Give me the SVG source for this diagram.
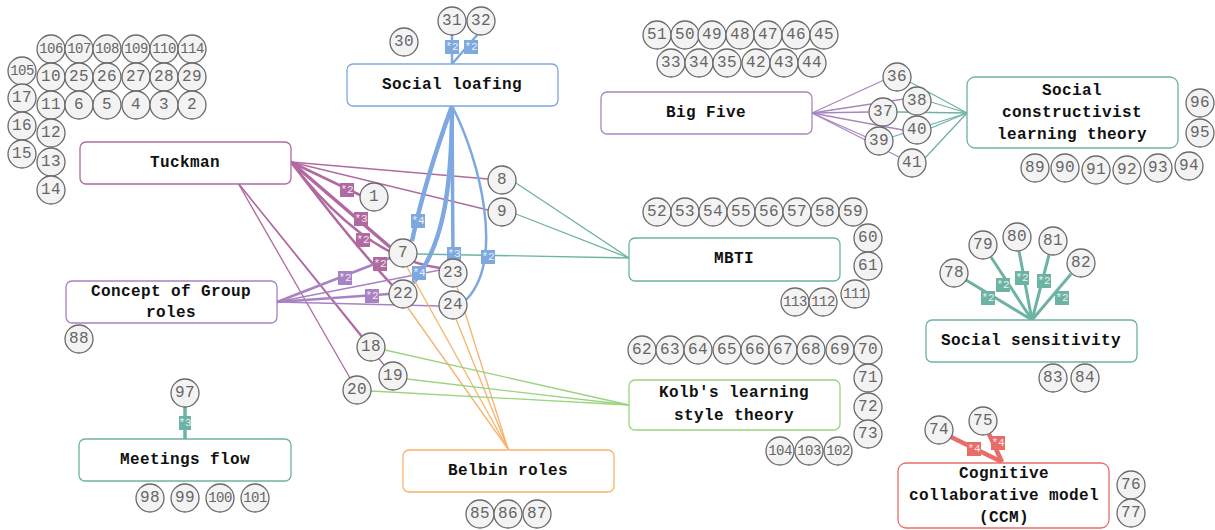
<svg xmlns="http://www.w3.org/2000/svg" width="1215" height="530" viewBox="0 0 1215 530">
<style>
.box{fill:#fff;stroke-width:1.3}
.bt{font-family:"Liberation Mono",monospace;font-weight:bold;font-size:16px;letter-spacing:0.4px;fill:#111;text-anchor:middle;dominant-baseline:central}
.c circle{fill:#f3f3f3;stroke:#6a6a6a;stroke-width:1.3}
.c text{font-family:"Liberation Mono",monospace;font-size:16px;letter-spacing:0.3px;fill:#666;text-anchor:middle;dominant-baseline:central}
.c.s text{font-size:14px;letter-spacing:-0.5px}
.e{fill:none}
.lb text{font-family:"Liberation Mono",monospace;font-size:11px;fill:#fff;fill-opacity:0.85;text-anchor:middle;dominant-baseline:central}
.tk{stroke:#b06aa0}
.cg{stroke:#a882c2}
.bf{stroke:#a886c0}
.sl{stroke:#7ea8e0}
.tl{stroke:#6db3a3}
.gr{stroke:#9ad47e}
.or{stroke:#f7b36b}
.rd{stroke:#e86d68}
</style>
<g id="connectors">
<g stroke-width="1.3" class="e">
<path class="tk" d="M291,162 L488,179"/>
<path class="tk" d="M291,162 L488,210"/>
<path class="tk" d="M291,162 L360,195" stroke-width="2.5"/>
<path class="tk" d="M291,162 L390,247" stroke-width="3.5"/>
<path class="tk" d="M291,162 Q365,258 440,268" stroke-width="2.5"/>
<path class="tk" d="M291,162 Q350,240 392,285" stroke-width="2.5"/>
<path class="tk" d="M238,183 L362,336"/>
<path class="tk" d="M238,183 L384,365"/>
<path class="tk" d="M238,183 L350,378"/>
<path class="cg" d="M277,302 L390,258" stroke-width="2.5"/>
<path class="cg" d="M277,302 L389,294" stroke-width="2.5"/>
<path class="cg" d="M277,302 L440,270"/>
<path class="cg" d="M277,302 L439,306"/>
<path class="sl" d="M452,106 Q425,180 412,241" stroke-width="4.5"/>
<path class="sl" d="M452,106 C452,200 440,250 413,283" stroke-width="4.5"/>
<path class="sl" d="M452,106 L453,259" stroke-width="3.5"/>
<path class="sl" d="M452,106 C480,160 505,260 466,300" stroke-width="2.5"/>
<path class="sl" d="M452,64 L452,35" stroke-width="2.5"/>
<path class="sl" d="M452,64 L478,34" stroke-width="2.5"/>
<path class="tl" d="M516,183 L629,258"/>
<path class="tl" d="M516,214 L629,258"/>
<path class="tl" d="M417,254 L629,258"/>
<path class="or" d="M407,267 L508,449"/>
<path class="or" d="M408,308 L508,449"/>
<path class="or" d="M457,287 L508,449"/>
<path class="or" d="M456,319 L508,449"/>
<path class="gr" d="M385,350 L629,405"/>
<path class="gr" d="M407,379 L629,405"/>
<path class="gr" d="M371,391 L629,405"/>
<path class="bf" d="M812,113 L884,80"/>
<path class="bf" d="M812,113 L869,112"/>
<path class="bf" d="M812,113 L904,99"/>
<path class="bf" d="M812,113 L866,137"/>
<path class="bf" d="M812,113 L903,130"/>
<path class="bf" d="M812,113 L899,157"/>
<path class="tl" d="M910,82 L967,113"/>
<path class="tl" d="M931,102 L967,113"/>
<path class="tl" d="M897,112 L967,113"/>
<path class="tl" d="M931,128 L967,113"/>
<path class="tl" d="M892,137 L967,113"/>
<path class="tl" d="M925,158 L967,113"/>
<path class="tl" d="M1032,320 L966,280" stroke-width="3"/>
<path class="tl" d="M1032,320 L991,257" stroke-width="3"/>
<path class="tl" d="M1032,320 L1019,251" stroke-width="3"/>
<path class="tl" d="M1032,320 L1049,255" stroke-width="3"/>
<path class="tl" d="M1032,320 L1071,274" stroke-width="3"/>
<path class="tl" d="M185,407 L185,439" stroke-width="3.5"/>
<path class="rd" d="M1002,462 L951,437" stroke-width="4.5"/>
<path class="rd" d="M1002,462 L989,434" stroke-width="4.5"/>
</g>
<g class="lb">
<g transform="translate(347,190)"><rect x="-7" y="-7" width="14" height="14" fill="#b06aa0"/><text>*2</text></g>
<g transform="translate(361,219)"><rect x="-7" y="-7" width="14" height="14" fill="#b06aa0"/><text>*3</text></g>
<g transform="translate(363,240)"><rect x="-7" y="-7" width="14" height="14" fill="#b06aa0"/><text>*2</text></g>
<g transform="translate(380,264)"><rect x="-7" y="-7" width="14" height="14" fill="#b06aa0"/><text>*2</text></g>
<g transform="translate(345,278)"><rect x="-7" y="-7" width="14" height="14" fill="#a882c2"/><text>*2</text></g>
<g transform="translate(372,296)"><rect x="-7" y="-7" width="14" height="14" fill="#a882c2"/><text>*2</text></g>
<g transform="translate(418,221)"><rect x="-7" y="-7" width="14" height="14" fill="#7ea8e0"/><text>*4</text></g>
<g transform="translate(419,273)"><rect x="-7" y="-7" width="14" height="14" fill="#7ea8e0"/><text>*4</text></g>
<g transform="translate(454,254)"><rect x="-7" y="-7" width="14" height="14" fill="#7ea8e0"/><text>*3</text></g>
<g transform="translate(488,257)"><rect x="-7" y="-7" width="14" height="14" fill="#7ea8e0"/><text>*2</text></g>
<g transform="translate(452,47)"><rect x="-7" y="-7" width="14" height="14" fill="#7ea8e0"/><text>*2</text></g>
<g transform="translate(471,47)"><rect x="-7" y="-7" width="14" height="14" fill="#7ea8e0"/><text>*2</text></g>
<g transform="translate(988,298)"><rect x="-7" y="-7" width="14" height="14" fill="#6db3a3"/><text>*2</text></g>
<g transform="translate(1003,285)"><rect x="-7" y="-7" width="14" height="14" fill="#6db3a3"/><text>*2</text></g>
<g transform="translate(1022,278)"><rect x="-7" y="-7" width="14" height="14" fill="#6db3a3"/><text>*2</text></g>
<g transform="translate(1044,281)"><rect x="-7" y="-7" width="14" height="14" fill="#6db3a3"/><text>*2</text></g>
<g transform="translate(1062,298)"><rect x="-7" y="-7" width="14" height="14" fill="#6db3a3"/><text>*2</text></g>
<g transform="translate(185,423)"><rect x="-6" y="-7" width="12" height="14" fill="#6db3a3"/><text>*3</text></g>
<g transform="translate(974,449)"><rect x="-7" y="-7" width="14" height="14" fill="#e86d68"/><text>*4</text></g>
<g transform="translate(998,443)"><rect x="-7" y="-7" width="14" height="14" fill="#e86d68"/><text>*4</text></g>
</g>
</g>
<g id="tuckman"><rect class="box" x="80" y="142" width="211" height="42" rx="6" stroke="#b06aa0"/><text class="bt" x="185" y="163">Tuckman</text></g>
<g id="social-loafing"><rect class="box" x="347" y="64" width="211" height="42" rx="6" stroke="#7ea8e0"/><text class="bt" x="452" y="85">Social loafing</text></g>
<g id="big-five"><rect class="box" x="601" y="92" width="211" height="42" rx="6" stroke="#a886c0"/><text class="bt" x="706" y="113">Big Five</text></g>
<g id="social-constructivist"><rect class="box" x="967" y="77" width="211" height="71" rx="8" stroke="#6db3a3"/><text class="bt" x="1072" y="91">Social</text><text class="bt" x="1072" y="113">constructivist</text><text class="bt" x="1072" y="135">learning theory</text></g>
<g id="mbti"><rect class="box" x="629" y="238" width="211" height="43" rx="6" stroke="#6db3a3"/><text class="bt" x="734" y="259">MBTI</text></g>
<g id="concept-group-roles"><rect class="box" x="66" y="281" width="211" height="42" rx="6" stroke="#a882c2"/><text class="bt" x="171" y="292">Concept of Group</text><text class="bt" x="171" y="313">roles</text></g>
<g id="social-sensitivity"><rect class="box" x="926" y="320" width="211" height="42" rx="6" stroke="#6db3a3"/><text class="bt" x="1031" y="341">Social sensitivity</text></g>
<g id="kolb"><rect class="box" x="629" y="380" width="211" height="50" rx="6" stroke="#9ad47e"/><text class="bt" x="734" y="393">Kolb's learning</text><text class="bt" x="734" y="416">style theory</text></g>
<g id="meetings-flow"><rect class="box" x="79" y="439" width="212" height="42" rx="6" stroke="#6db3a3"/><text class="bt" x="185" y="460">Meetings flow</text></g>
<g id="belbin"><rect class="box" x="403" y="450" width="211" height="42" rx="6" stroke="#f7b36b"/><text class="bt" x="508" y="471">Belbin roles</text></g>
<g id="ccm"><rect class="box" x="898" y="463" width="211" height="65" rx="8" stroke="#e86d68"/><text class="bt" x="1004" y="474">Cognitive</text><text class="bt" x="1004" y="496">collaborative model</text><text class="bt" x="1004" y="518">(CCM)</text></g>
<g id="n106" class="c s" transform="translate(51,49)"><circle r="14"/><text>106</text></g>
<g id="n107" class="c s" transform="translate(79,49)"><circle r="14"/><text>107</text></g>
<g id="n108" class="c s" transform="translate(107,49)"><circle r="14"/><text>108</text></g>
<g id="n109" class="c s" transform="translate(136,49)"><circle r="14"/><text>109</text></g>
<g id="n110" class="c s" transform="translate(164,49)"><circle r="14"/><text>110</text></g>
<g id="n114" class="c s" transform="translate(192,49)"><circle r="14"/><text>114</text></g>
<g id="n105" class="c s" transform="translate(22,71)"><circle r="14"/><text>105</text></g>
<g id="n10" class="c" transform="translate(51,77)"><circle r="14"/><text>10</text></g>
<g id="n25" class="c" transform="translate(79,77)"><circle r="14"/><text>25</text></g>
<g id="n26" class="c" transform="translate(107,77)"><circle r="14"/><text>26</text></g>
<g id="n27" class="c" transform="translate(136,77)"><circle r="14"/><text>27</text></g>
<g id="n28" class="c" transform="translate(164,77)"><circle r="14"/><text>28</text></g>
<g id="n29" class="c" transform="translate(192,77)"><circle r="14"/><text>29</text></g>
<g id="n17" class="c" transform="translate(22,98)"><circle r="14"/><text>17</text></g>
<g id="n11" class="c" transform="translate(51,105)"><circle r="14"/><text>11</text></g>
<g id="n6" class="c" transform="translate(79,105)"><circle r="14"/><text>6</text></g>
<g id="n5" class="c" transform="translate(107,105)"><circle r="14"/><text>5</text></g>
<g id="n4" class="c" transform="translate(136,105)"><circle r="14"/><text>4</text></g>
<g id="n3" class="c" transform="translate(164,105)"><circle r="14"/><text>3</text></g>
<g id="n2" class="c" transform="translate(192,105)"><circle r="14"/><text>2</text></g>
<g id="n16" class="c" transform="translate(22,126)"><circle r="14"/><text>16</text></g>
<g id="n12" class="c" transform="translate(51,133)"><circle r="14"/><text>12</text></g>
<g id="n15" class="c" transform="translate(22,154)"><circle r="14"/><text>15</text></g>
<g id="n13" class="c" transform="translate(51,162)"><circle r="14"/><text>13</text></g>
<g id="n14" class="c" transform="translate(51,190)"><circle r="14"/><text>14</text></g>
<g id="n30" class="c" transform="translate(404,42)"><circle r="14"/><text>30</text></g>
<g id="n31" class="c" transform="translate(452,21)"><circle r="14"/><text>31</text></g>
<g id="n32" class="c" transform="translate(481,21)"><circle r="14"/><text>32</text></g>
<g id="n51" class="c" transform="translate(657,35)"><circle r="14"/><text>51</text></g>
<g id="n50" class="c" transform="translate(685,35)"><circle r="14"/><text>50</text></g>
<g id="n49" class="c" transform="translate(712,35)"><circle r="14"/><text>49</text></g>
<g id="n48" class="c" transform="translate(740,35)"><circle r="14"/><text>48</text></g>
<g id="n47" class="c" transform="translate(768,35)"><circle r="14"/><text>47</text></g>
<g id="n46" class="c" transform="translate(796,35)"><circle r="14"/><text>46</text></g>
<g id="n45" class="c" transform="translate(824,35)"><circle r="14"/><text>45</text></g>
<g id="n33" class="c" transform="translate(671,63)"><circle r="14"/><text>33</text></g>
<g id="n34" class="c" transform="translate(699,63)"><circle r="14"/><text>34</text></g>
<g id="n35" class="c" transform="translate(727,63)"><circle r="14"/><text>35</text></g>
<g id="n42" class="c" transform="translate(756,63)"><circle r="14"/><text>42</text></g>
<g id="n43" class="c" transform="translate(784,63)"><circle r="14"/><text>43</text></g>
<g id="n44" class="c" transform="translate(812,63)"><circle r="14"/><text>44</text></g>
<g id="n36" class="c" transform="translate(897,77)"><circle r="14"/><text>36</text></g>
<g id="n38" class="c" transform="translate(917,101)"><circle r="14"/><text>38</text></g>
<g id="n37" class="c" transform="translate(883,112)"><circle r="14"/><text>37</text></g>
<g id="n40" class="c" transform="translate(917,130)"><circle r="14"/><text>40</text></g>
<g id="n39" class="c" transform="translate(879,141)"><circle r="14"/><text>39</text></g>
<g id="n41" class="c" transform="translate(912,163)"><circle r="14"/><text>41</text></g>
<g id="n96" class="c" transform="translate(1200,103)"><circle r="14"/><text>96</text></g>
<g id="n95" class="c" transform="translate(1200,133)"><circle r="14"/><text>95</text></g>
<g id="n89" class="c" transform="translate(1035,168)"><circle r="14"/><text>89</text></g>
<g id="n90" class="c" transform="translate(1065,168)"><circle r="14"/><text>90</text></g>
<g id="n91" class="c" transform="translate(1096,170)"><circle r="14"/><text>91</text></g>
<g id="n92" class="c" transform="translate(1127,170)"><circle r="14"/><text>92</text></g>
<g id="n93" class="c" transform="translate(1158,168)"><circle r="14"/><text>93</text></g>
<g id="n94" class="c" transform="translate(1189,166)"><circle r="14"/><text>94</text></g>
<g id="n52" class="c" transform="translate(657,212)"><circle r="14"/><text>52</text></g>
<g id="n53" class="c" transform="translate(685,212)"><circle r="14"/><text>53</text></g>
<g id="n54" class="c" transform="translate(713,212)"><circle r="14"/><text>54</text></g>
<g id="n55" class="c" transform="translate(741,212)"><circle r="14"/><text>55</text></g>
<g id="n56" class="c" transform="translate(769,212)"><circle r="14"/><text>56</text></g>
<g id="n57" class="c" transform="translate(797,212)"><circle r="14"/><text>57</text></g>
<g id="n58" class="c" transform="translate(825,212)"><circle r="14"/><text>58</text></g>
<g id="n59" class="c" transform="translate(853,212)"><circle r="14"/><text>59</text></g>
<g id="n60" class="c" transform="translate(868,238)"><circle r="14"/><text>60</text></g>
<g id="n61" class="c" transform="translate(868,266)"><circle r="14"/><text>61</text></g>
<g id="n111" class="c s" transform="translate(855,294)"><circle r="14"/><text>111</text></g>
<g id="n113" class="c s" transform="translate(795,302)"><circle r="14"/><text>113</text></g>
<g id="n112" class="c s" transform="translate(823,302)"><circle r="14"/><text>112</text></g>
<g id="n1" class="c" transform="translate(374,197)"><circle r="14"/><text>1</text></g>
<g id="n8" class="c" transform="translate(502,180)"><circle r="14"/><text>8</text></g>
<g id="n9" class="c" transform="translate(502,212)"><circle r="14"/><text>9</text></g>
<g id="n7" class="c" transform="translate(403,253)"><circle r="14"/><text>7</text></g>
<g id="n23" class="c" transform="translate(453,273)"><circle r="14"/><text>23</text></g>
<g id="n22" class="c" transform="translate(403,294)"><circle r="14"/><text>22</text></g>
<g id="n24" class="c" transform="translate(453,305)"><circle r="14"/><text>24</text></g>
<g id="n18" class="c" transform="translate(371,347)"><circle r="14"/><text>18</text></g>
<g id="n19" class="c" transform="translate(393,376)"><circle r="14"/><text>19</text></g>
<g id="n20" class="c" transform="translate(357,390)"><circle r="14"/><text>20</text></g>
<g id="n62" class="c" transform="translate(642,350)"><circle r="14"/><text>62</text></g>
<g id="n63" class="c" transform="translate(670,350)"><circle r="14"/><text>63</text></g>
<g id="n64" class="c" transform="translate(698,350)"><circle r="14"/><text>64</text></g>
<g id="n65" class="c" transform="translate(727,350)"><circle r="14"/><text>65</text></g>
<g id="n66" class="c" transform="translate(755,350)"><circle r="14"/><text>66</text></g>
<g id="n67" class="c" transform="translate(783,350)"><circle r="14"/><text>67</text></g>
<g id="n68" class="c" transform="translate(811,350)"><circle r="14"/><text>68</text></g>
<g id="n69" class="c" transform="translate(840,350)"><circle r="14"/><text>69</text></g>
<g id="n70" class="c" transform="translate(868,350)"><circle r="14"/><text>70</text></g>
<g id="n71" class="c" transform="translate(868,378)"><circle r="14"/><text>71</text></g>
<g id="n72" class="c" transform="translate(868,407)"><circle r="14"/><text>72</text></g>
<g id="n73" class="c" transform="translate(868,434)"><circle r="14"/><text>73</text></g>
<g id="n104" class="c s" transform="translate(780,451)"><circle r="14"/><text>104</text></g>
<g id="n103" class="c s" transform="translate(809,451)"><circle r="14"/><text>103</text></g>
<g id="n102" class="c s" transform="translate(838,451)"><circle r="14"/><text>102</text></g>
<g id="n78" class="c" transform="translate(954,273)"><circle r="14"/><text>78</text></g>
<g id="n79" class="c" transform="translate(983,245)"><circle r="14"/><text>79</text></g>
<g id="n80" class="c" transform="translate(1017,237)"><circle r="14"/><text>80</text></g>
<g id="n81" class="c" transform="translate(1053,241)"><circle r="14"/><text>81</text></g>
<g id="n82" class="c" transform="translate(1081,263)"><circle r="14"/><text>82</text></g>
<g id="n83" class="c" transform="translate(1053,378)"><circle r="14"/><text>83</text></g>
<g id="n84" class="c" transform="translate(1085,378)"><circle r="14"/><text>84</text></g>
<g id="n74" class="c" transform="translate(939,430)"><circle r="14"/><text>74</text></g>
<g id="n75" class="c" transform="translate(983,421)"><circle r="14"/><text>75</text></g>
<g id="n76" class="c" transform="translate(1131,485)"><circle r="14"/><text>76</text></g>
<g id="n77" class="c" transform="translate(1131,513)"><circle r="14"/><text>77</text></g>
<g id="n88" class="c" transform="translate(79,339)"><circle r="14"/><text>88</text></g>
<g id="n97" class="c" transform="translate(185,393)"><circle r="14"/><text>97</text></g>
<g id="n98" class="c" transform="translate(150,498)"><circle r="14"/><text>98</text></g>
<g id="n99" class="c" transform="translate(185,498)"><circle r="14"/><text>99</text></g>
<g id="n100" class="c s" transform="translate(220,498)"><circle r="14"/><text>100</text></g>
<g id="n101" class="c s" transform="translate(255,498)"><circle r="14"/><text>101</text></g>
<g id="n85" class="c" transform="translate(480,514)"><circle r="14"/><text>85</text></g>
<g id="n86" class="c" transform="translate(508,514)"><circle r="14"/><text>86</text></g>
<g id="n87" class="c" transform="translate(537,514)"><circle r="14"/><text>87</text></g>
</svg>
